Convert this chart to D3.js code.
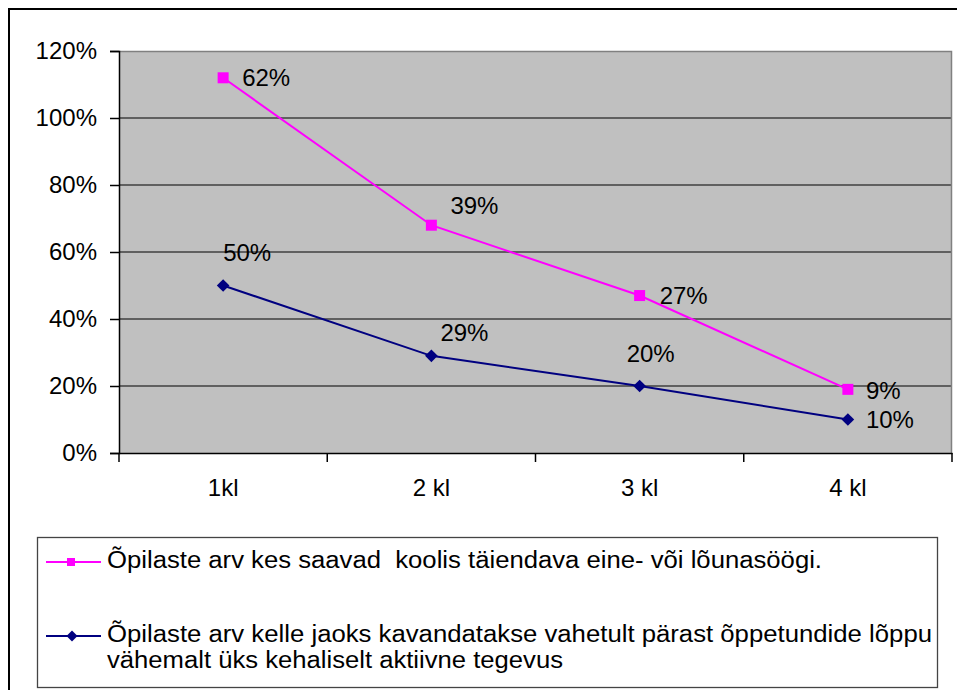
<!DOCTYPE html>
<html><head><meta charset="utf-8">
<script src="https://cdn.jsdelivr.net/npm/d3@7"></script>
<style>body{margin:0;background:#fff}svg{display:block}text{font-family:"Liberation Sans",Arial,sans-serif}</style>
</head><body><svg id="c" width="957" height="690"></svg>
<script>
const categories = ["1kl", "2 kl", "3 kl", "4 kl"];
const activeValues = [50, 29, 20, 10];      // blue series
const mealValues = [62, 39, 27, 9];         // pink series (stacked on blue)
const yTicks = [0, 20, 40, 60, 80, 100, 120];
const seriesNames = [
  "Õpilaste arv kes saavad  koolis täiendava eine- või lõunasöögi.",
  "Õpilaste arv kelle jaoks kavandatakse vahetult pärast õppetundide lõppu",
  "vähemalt üks kehaliselt aktiivne tegevus"
];
// label placement offsets (dx, dy) relative to point
const mealLabelOff = [[19,0],[19,-20],[20,0],[18,1]];
const activeLabelOff = [[0,-33],[9,-23],[-13,-33],[18,0]];

const svg = d3.select("#c");
const L = 119, R = 952, T = 51, B = 453;
const x = d3.scaleBand().domain(categories).range([L, R]);
const y = d3.scaleLinear().domain([0, 120]).range([B, T]);

// outer frame
svg.append("rect").attr("x", 9).attr("y", 9).attr("width", 970).attr("height", 720)
  .attr("fill", "none").attr("stroke", "#000").attr("stroke-width", 2);

// plot bg
svg.append("rect").attr("x", L).attr("y", T).attr("width", R - L).attr("height", B - T).attr("fill", "#C0C0C0");
// gridlines
svg.append("g").selectAll("line").data(yTicks.filter(d => d > 0 && d < 120)).join("line")
  .attr("x1", L).attr("x2", R).attr("y1", d => y(d)).attr("y2", d => y(d)).attr("stroke", "#000").attr("stroke-width", 1);
// plot border top/right gray
svg.append("path").attr("d", `M${L},${T + 0.5}H${R - 0.5}V${B}`).attr("fill", "none").attr("stroke", "#808080").attr("stroke-width", 1.5);

// y axis
const yAxis = d3.axisLeft(y).tickValues(yTicks).tickSize(9).tickPadding(13).tickFormat(d => d + "%");
const gy = svg.append("g").attr("transform", `translate(${L},0)`).call(yAxis);
gy.select(".domain").attr("stroke", "#000").attr("stroke-width", 1.5);
gy.selectAll(".tick line").attr("stroke", "#000").attr("stroke-width", 1.5);
gy.selectAll("text").attr("font-size", 24).attr("fill", "#000").attr("font-family", "Liberation Sans, Arial, sans-serif");

// x axis
const xAxis = d3.axisBottom(x).tickSize(0).tickPadding(26);
const gx = svg.append("g").attr("transform", `translate(0,${B})`).call(xAxis);
gx.select(".domain").attr("stroke", "#000").attr("stroke-width", 1.5);
gx.selectAll("text").attr("font-size", 24).attr("fill", "#000").attr("font-family", "Liberation Sans, Arial, sans-serif");
// boundary ticks
const bounds = categories.map(c => x(c)).concat([x(categories[categories.length - 1]) + x.bandwidth()]);
svg.append("g").selectAll("line").data(bounds).join("line")
  .attr("x1", d => d).attr("x2", d => d).attr("y1", B).attr("y2", B + 9).attr("stroke", "#000").attr("stroke-width", 1.5);

const cx = c => x(c) + x.bandwidth() / 2;
const mealStack = mealValues.map((v, i) => v + activeValues[i]);

const line = d3.line().x((d, i) => cx(categories[i])).y(d => y(d));
svg.append("path").datum(activeValues).attr("d", line).attr("fill", "none").attr("stroke", "#000080").attr("stroke-width", 2);
svg.append("path").datum(mealStack).attr("d", line).attr("fill", "none").attr("stroke", "#FF00FF").attr("stroke-width", 2);

svg.append("g").selectAll("path").data(activeValues).join("path")
  .attr("d", d3.symbol().type(d3.symbolSquare).size(80))
  .attr("transform", (d, i) => `translate(${cx(categories[i])},${y(d)}) rotate(45)`).attr("fill", "#000080");
svg.append("g").selectAll("rect").data(mealStack).join("rect")
  .attr("x", (d, i) => cx(categories[i]) - 5.5).attr("y", d => y(d) - 5.5).attr("width", 11).attr("height", 11).attr("fill", "#FF00FF");

// labels
svg.append("g").selectAll("text").data(mealValues).join("text")
  .attr("x", (d, i) => cx(categories[i]) + mealLabelOff[i][0])
  .attr("y", (d, i) => y(mealStack[i]) + mealLabelOff[i][1] + 8.5)
  .attr("font-size", 24).text(d => d + "%");
svg.append("g").selectAll("text").data(activeValues).join("text")
  .attr("x", (d, i) => cx(categories[i]) + activeLabelOff[i][0])
  .attr("y", (d, i) => y(d) + activeLabelOff[i][1] + 8.5)
  .attr("font-size", 24).text(d => d + "%");

// legend
svg.append("rect").attr("x", 37.5).attr("y", 537.5).attr("width", 900).attr("height", 150)
  .attr("fill", "#fff").attr("stroke", "#444").attr("stroke-width", 1.3);
const lg = svg.append("g");
lg.append("line").attr("x1", 46).attr("x2", 101).attr("y1", 562).attr("y2", 562).attr("stroke", "#FF00FF").attr("stroke-width", 2);
lg.append("rect").attr("x", 67).attr("y", 558).attr("width", 8).attr("height", 8).attr("fill", "#FF00FF");
lg.append("line").attr("x1", 46).attr("x2", 101).attr("y1", 636).attr("y2", 636).attr("stroke", "#000080").attr("stroke-width", 2);
lg.append("path").attr("d", d3.symbol().type(d3.symbolSquare).size(60)).attr("transform", "translate(72,636) rotate(45)").attr("fill", "#000080");
const legendLines = [[seriesNames[0], 568, 715], [seriesNames[1], 642, 825], [seriesNames[2], 668, 456]];
lg.selectAll("text").data(legendLines).join("text")
  .attr("x", 107).attr("y", d => d[1]).attr("font-size", 23)
  .style("white-space", "pre").attr("xml:space", "preserve")
  .attr("textLength", d => d[2]).attr("lengthAdjust", "spacingAndGlyphs")
  .text(d => d[0]);
</script></body></html>
